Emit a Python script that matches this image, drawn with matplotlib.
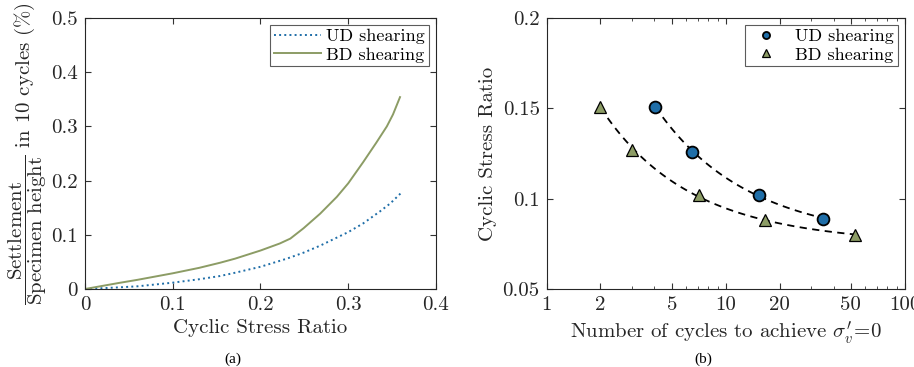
import numpy as np
import matplotlib.pyplot as plt
from matplotlib.ticker import LogLocator, FixedLocator, FixedFormatter, NullFormatter

plt.rcParams['font.family'] = 'serif'
plt.rcParams['font.serif'] = ['cmr10']
plt.rcParams['mathtext.fontset'] = 'cm'
plt.rcParams['axes.formatter.use_mathtext'] = True
plt.rcParams['axes.unicode_minus'] = False

blue = '#1f6ea8'
green = '#8c9c65'

# (a) settlement vs cyclic stress ratio
csr_ud = [0, 0.038, 0.06, 0.1, 0.13, 0.154, 0.171, 0.2, 0.23, 0.249, 0.268, 0.3, 0.317, 0.336,
          0.348, 0.362]
set_ud = [0, 0.003, 0.005, 0.0117, 0.018, 0.024, 0.030, 0.041, 0.056, 0.067, 0.080, 0.105, 0.121,
          0.143, 0.158, 0.180]
csr_bd = [0, 0.038, 0.06, 0.1, 0.13, 0.154, 0.171, 0.2, 0.222, 0.234, 0.249, 0.268, 0.287, 0.3,
          0.317, 0.332, 0.344, 0.351, 0.359]
set_bd = [0, 0.011, 0.017, 0.029, 0.039, 0.0485, 0.056, 0.071, 0.084, 0.093, 0.112, 0.139, 0.170,
          0.195, 0.234, 0.270, 0.300, 0.322, 0.354]

# (b) cycles to zero effective stress
n_ud = [4.05, 6.5, 15.3, 35.0]
r_ud = [0.151, 0.126, 0.102, 0.089]
n_bd = [2.0, 3.0, 7.1, 16.5, 53.0]
r_bd = [0.151, 0.127, 0.102, 0.088, 0.080]

fig = plt.figure(figsize=(9.14, 3.67), dpi=100)
ax1 = fig.add_axes([0.093, 0.2125, 0.384, 0.7385])
ax2 = fig.add_axes([0.598, 0.2125, 0.392, 0.7385])

fs = 15
ax1.plot(csr_ud, set_ud, ':', color=blue, lw=1.4, label='UD shearing')
ax1.plot(csr_bd, set_bd, '-', color=green, lw=1.4, label='BD shearing')
ax1.set_xlim(0, 0.4)
ax1.set_ylim(0, 0.5)
ax1.set_xticks([0, 0.1, 0.2, 0.3, 0.4])
ax1.set_xticklabels(['0', '0.1', '0.2', '0.3', '0.4'])
ax1.set_yticks([0, 0.1, 0.2, 0.3, 0.4, 0.5])
ax1.set_yticklabels(['0', '0.1', '0.2', '0.3', '0.4', '0.5'])
ax1.set_xlabel('Cyclic Stress Ratio', fontsize=fs, labelpad=4)
ax1.set_ylabel(r'$\dfrac{\mathrm{Settlement}}{\mathrm{Specimen\ height}}$ in 10 cycles (%)',
               fontsize=fs, labelpad=2)
leg1 = ax1.legend(loc='upper right', fontsize=13, fancybox=False, edgecolor='#333333',
                  handlelength=2.6, borderpad=0.2, labelspacing=0.15, handletextpad=0.3,
                  borderaxespad=0.4)
leg1.get_frame().set_linewidth(0.8)

# fitted trend lines
for n, r in [(n_ud, r_ud), (n_bd, r_bd)]:
    u = np.array(n) ** -0.5
    c = np.polyfit(u, r, 2)
    xf = np.logspace(np.log10(min(n)), np.log10(max(n)), 100)
    ax2.plot(xf, np.polyval(c, xf ** -0.5), '--', color='black', lw=1.3, dashes=(4, 3), zorder=2)

ax2.plot(n_ud, r_ud, 'o', color=blue, mec='black', mew=1.3, ms=8.5, label='UD shearing', zorder=3)
ax2.plot(n_bd, r_bd, '^', color=green, mec='black', mew=0.9, ms=9, label='BD shearing', zorder=3)
ax2.set_xscale('log')
ax2.set_xlim(1, 100)
ax2.set_ylim(0.05, 0.2)
ax2.xaxis.set_major_locator(FixedLocator([1, 2, 5, 10, 20, 50, 100]))
ax2.xaxis.set_major_formatter(FixedFormatter(['1', '2', '5', '10', '20', '50', '100']))
ax2.xaxis.set_minor_locator(LogLocator(base=10, subs=np.arange(2, 10)))
ax2.xaxis.set_minor_formatter(NullFormatter())
ax2.set_yticks([0.05, 0.1, 0.15, 0.2])
ax2.set_yticklabels(['0.05', '0.1', '0.15', '0.2'])
ax2.set_xlabel(r"Number of cycles to achieve $\sigma_v'\!=\!0$", fontsize=fs, labelpad=4)
ax2.set_ylabel('Cyclic Stress Ratio', fontsize=fs, labelpad=4)
leg2 = ax2.legend(loc='upper right', fontsize=13, fancybox=False, edgecolor='#333333',
                  markerscale=0.6, borderpad=0.2, labelspacing=0.15, handletextpad=0.6,
                  borderaxespad=0.4)
leg2.get_frame().set_linewidth(0.8)

for ax in (ax1, ax2):
    ax.tick_params(which='both', direction='in', top=True, right=True, labelsize=fs,
                   color='#333333', labelcolor='#262626')
    ax.tick_params(which='major', length=4, pad=5)
    ax.tick_params(which='minor', length=2.5)
    for s in ax.spines.values():
        s.set_linewidth(0.8)
        s.set_color('#262626')
    ax.xaxis.label.set_color('#262626')
    ax.yaxis.label.set_color('#262626')

fig.text(0.255, 0.022, '(a)', fontsize=11, family='Liberation Serif', ha='center', va='center')
fig.text(0.770, 0.022, '(b)', fontsize=11, family='Liberation Serif', ha='center', va='center')

fig.savefig('out.png', dpi=100)
